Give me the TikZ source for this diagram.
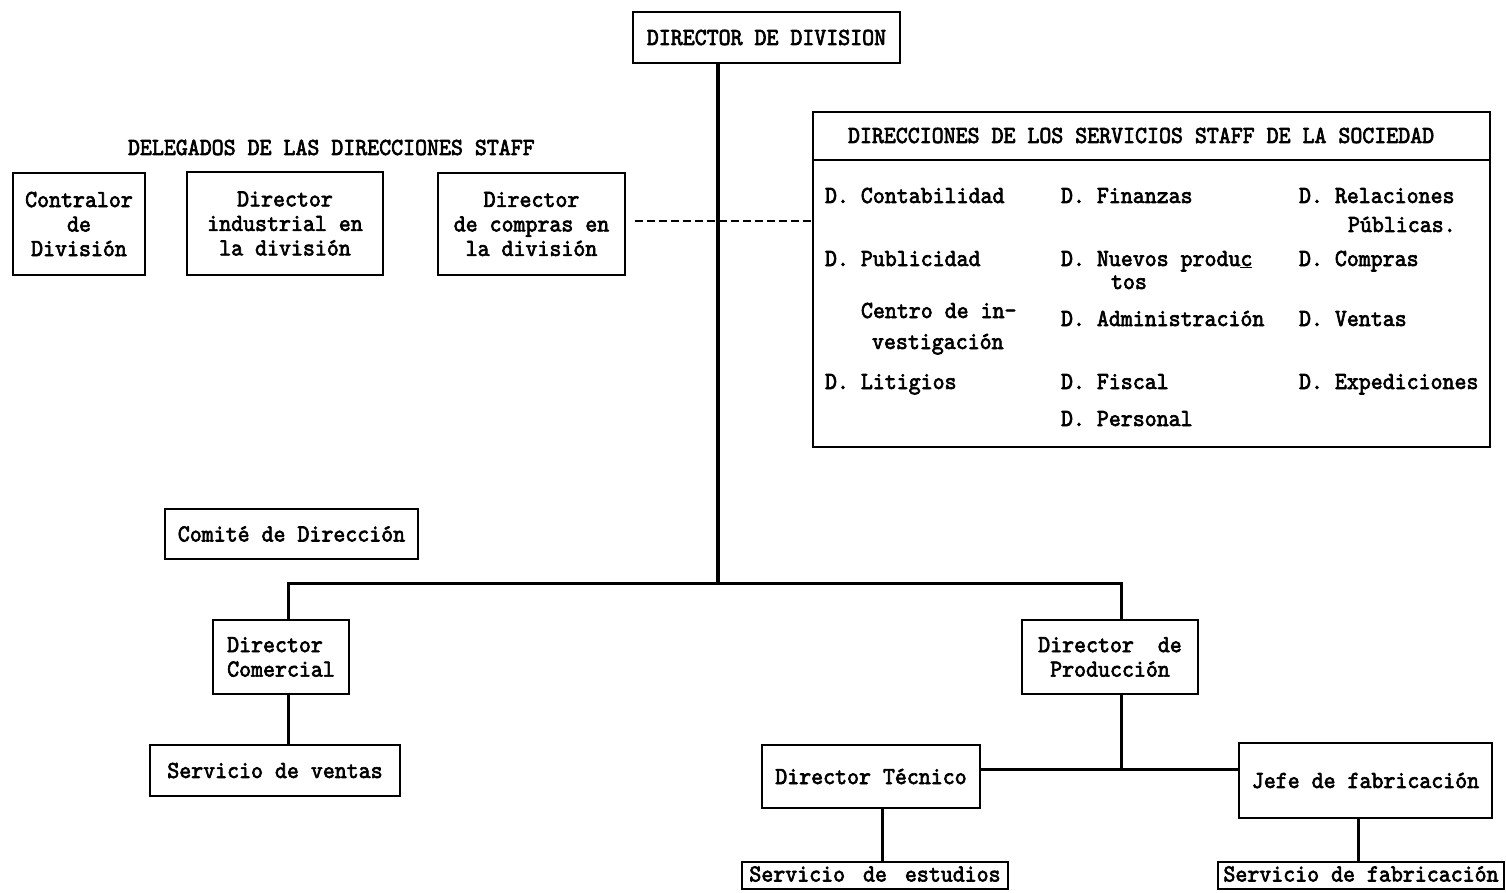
\documentclass[tikz,border=0pt]{standalone}
\usepackage{fontspec}
% typewriter face with slab serifs, slightly narrowed and emboldened
\newfontfamily\twfont{lmmono10-regular.otf}[FakeStretch=0.93, FakeBold=2.6]
\begin{document}
\begin{tikzpicture}[x=1pt,y=-1pt,
  tw/.style={font=\twfont\fontsize{24.5}{24.5}\selectfont},
  box/.style={tw, draw, line width=2.8pt, inner sep=0pt, outer sep=0pt, align=center},
  item/.style={tw, anchor=base west, inner sep=0pt, outer sep=0pt},
  link/.style={line width=3pt},
  spine/.style={line width=4.5pt},
  staffdash/.style={line width=2pt, dash pattern=on 8pt off 4pt}]
\fill[white] (0,0) rectangle (1506,893);
\useasboundingbox (0,0) rectangle (1506,893);

% top of the division
\node[box, minimum width=267pt, minimum height=51pt] (dirdiv) at (766.5,37.5) {DIRECTOR DE DIVISION};

% delegates of the staff directions
\node[item] (delegtitle) at (128,155) {DELEGADOS DE LAS DIRECCIONES STAFF};
\node[box, minimum width=132pt, minimum height=102pt] (contralor) at (79,224) {Contralor\\de\\División};
\node[box, minimum width=196pt, minimum height=103pt] (industrial) at (285,223.5) {Director\\industrial en\\la división};
\node[box, minimum width=187pt, minimum height=102pt] (compras) at (531.5,224) {Director\\de compras en\\la división};

% staff services of the company
\node[box, minimum width=677pt, minimum height=48pt] (staffhead) at (1151.5,136) {};
\node[box, minimum width=677pt, minimum height=287pt] (staffbody) at (1151.5,303.5) {};
\node[item] (stafftitle) at (848,143) {DIRECCIONES DE LOS SERVICIOS STAFF DE LA SOCIEDAD};

\node[item] (s11) at (825,203) {D. Contabilidad};
\node[item] (s12) at (1061,203) {D. Finanzas};
\node[item] (s13) at (1299,203) {D. Relaciones};
\node[item] (s13b) at (1348,232) {Públicas.};
\node[item] (s21) at (825,266) {D. Publicidad};
\node[item] (s22) at (1061,266) {D. Nuevos produ\underline{c}};
\node[item] (s22b) at (1111,289) {tos};
\node[item] (s23) at (1299,266) {D. Compras};
\node[item] (s31) at (861,318) {Centro de in-};
\node[item] (s31b) at (872,349) {vestigación};
\node[item] (s32) at (1061,326) {D. Administración};
\node[item] (s33) at (1299,326) {D. Ventas};
\node[item] (s41) at (825,389) {D. Litigios};
\node[item] (s42) at (1061,389) {D. Fiscal};
\node[item] (s43) at (1299,389) {D. Expediciones};
\node[item] (s52) at (1061,426) {D. Personal};

% line organisation
\node[box, minimum width=253pt, minimum height=50pt] (comite) at (291.5,534) {Comité de Dirección};
\node[box, minimum width=136pt, minimum height=74pt, align=left] (comercial) at (281,657) {Director\\Comercial};
\node[box, minimum width=250pt, minimum height=51pt] (ventas) at (275,770.5) {Servicio de ventas};
\node[box, minimum width=176pt, minimum height=74pt] (produccion) at (1110,657) {Director\ \ de\\Producción};
\node[box, minimum width=218pt, minimum height=63pt] (tecnico) at (871,776.5) {Director Técnico};
\node[box, minimum width=253pt, minimum height=75pt] (jefe) at (1365.5,780.5) {Jefe de fabricación};
\node[box, minimum width=266pt, minimum height=27pt, text height=15pt, text depth=3pt] (estudios) at (875,875.5) {Servicio\hspace{6pt} de\hspace{6pt} estudios};
\node[box, minimum width=286pt, minimum height=27pt, text height=15pt, text depth=3pt] (fabric) at (1361,875.5) {Servicio de fabricación};

% junction points of the connectors
\coordinate (jn) at (718,583);
\coordinate (cv) at (288,583);
\coordinate (pv) at (1121,583);
\coordinate (ph) at (1121,769);
\coordinate (tv) at (882,0);
\coordinate (jv) at (1358,0);
\coordinate (dl) at ([xshift=10pt,yshift=3pt]compras.east);

% staff relation
\draw[staffdash] (dl) -- (dl -| staffbody.west);

% hierarchy
\draw[spine] (dirdiv.south -| jn) -- (jn);
\draw[link] (comercial.north -| cv) -- (cv) -- (pv) -- (produccion.north -| pv);
\draw[link] (comercial.south -| cv) -- (ventas.north -| cv);
\draw[link] (produccion.south -| pv) -- (ph);
\draw[link] (tecnico.east |- ph) -- (jefe.west |- ph);
\draw[link] (tecnico.south -| tv) -- (estudios.north -| tv);
\draw[link] (jefe.south -| jv) -- (fabric.north -| jv);
\end{tikzpicture}
\end{document}
